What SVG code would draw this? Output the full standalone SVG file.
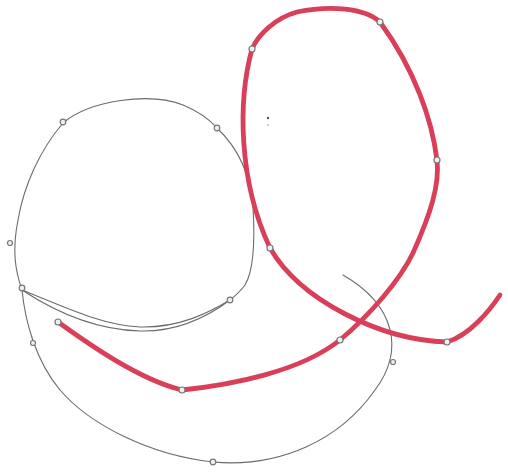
<svg xmlns="http://www.w3.org/2000/svg" width="508" height="472" viewBox="0 0 508 472">
<style>
.g{fill:none;stroke:#6a6a72;stroke-width:1.1;stroke-linecap:round}
.r{fill:none;stroke:#da3f5a;stroke-width:4.8;stroke-linecap:round;stroke-linejoin:round}
.k{fill:#eef0f0;stroke:#777;stroke-width:1.2}
</style>
<rect width="508" height="472" fill="#ffffff"/>
<g id="gray-loop">
<path class="g" d="M63,123 C90,100 150,92 183,105 C200,112 210,120 217,128 C235,145 250,170 253,207 C255,240 254,270 245,285 C240,292 235,296 230,300 C210,315 180,332 140,331 C100,330 60,315 22,290 C15,270 12,250 18,220 C24,185 40,150 63,123 Z"/>
<path class="g" d="M22,290 C60,305 100,325 140,327 C180,328 210,312 230,300"/>
</g>
<g id="gray-arc">
<path class="g" d="M22,290 C25,320 35,360 60,390 C90,425 150,455 213,462 C280,468 340,440 375,390 C405,350 395,305 343,275"/>
</g>
<g id="red-strand">
<path class="r" d="M58,322 C90,345 140,380 182,390 C230,385 300,372 340,340 C370,315 400,280 413,253 C430,215 440,185 437,160 C432,120 415,70 380,22 C365,8 330,5 297,12 C275,18 258,35 252,49 C238,100 238,180 270,248 C300,300 380,340 447,342 C470,335 490,310 500,295"/>
</g>
<g id="knots">
<circle class="k" cx="63" cy="122" r="2.8"/>
<circle class="k" cx="217" cy="128" r="2.8"/>
<circle class="k" cx="10" cy="243" r="2.5" stroke="#bbb"/>
<circle class="k" cx="22" cy="288" r="2.8"/>
<circle class="k" cx="230" cy="300" r="2.8"/>
<circle class="k" cx="33" cy="343" r="2.5"/>
<circle class="k" cx="213" cy="462" r="2.8"/>
<circle class="k" cx="393" cy="362" r="2.5"/>
<circle class="k" cx="252" cy="49" r="3"/>
<circle class="k" cx="380" cy="22" r="3"/>
<circle class="k" cx="437" cy="160" r="3"/>
<circle class="k" cx="270" cy="248" r="3"/>
<circle class="k" cx="340" cy="340" r="3"/>
<circle class="k" cx="182" cy="390" r="3"/>
<circle class="k" cx="58" cy="322" r="3"/>
<circle class="k" cx="447" cy="342" r="3"/>
</g>
<circle cx="268" cy="118" r="1.2" fill="#555"/>
<circle cx="268" cy="125" r="0.8" fill="#999"/>
</svg>
